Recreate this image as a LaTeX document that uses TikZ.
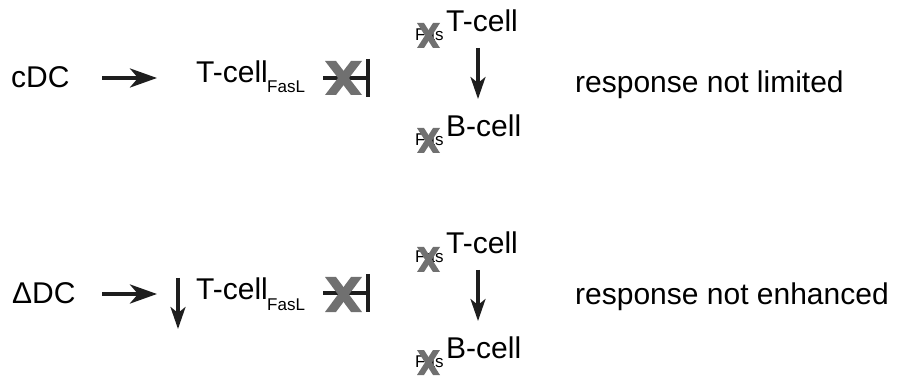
\documentclass[tikz,border=0pt]{standalone}
\usepackage{fontspec}
\setmainfont{Liberation Sans}
\usetikzlibrary{arrows.meta}
\definecolor{xgray}{RGB}{112,112,112}
\definecolor{ink}{RGB}{30,30,30}
\newcommand{\xmarkshape}[5]{%
  \fill[xgray] (#1,#2) -- ++(#5,0) -- (#3,#4) -- ++(-#5,0) -- cycle;
  \fill[xgray] (#3,#2) -- ++(-#5,0) -- (#1,#4) -- ++(#5,0) -- cycle;}
\tikzset{
  txt/.style={inner sep=0pt, anchor=base west, font=\fontsize{30}{34}\selectfont, text=black},
  small/.style={inner sep=0pt, anchor=base west, font=\fontsize{17}{20}\selectfont, text=black},
  harrow/.style={draw=ink, line width=4pt, -{Stealth[length=27pt,width=19pt,inset=8pt]}},
  varrow/.style={draw=ink, line width=3.2pt, -{Stealth[length=22pt,width=15pt,inset=6pt]}},
  inhib/.style={draw=ink, line width=4pt, -{Bar[width=38pt]}}
}
\begin{document}
\begin{tikzpicture}[x=1pt,y=-1pt]
\useasboundingbox (0,0) rectangle (899,387);
% ---------- row 1 ----------
\node[txt] (cdc) at (11,88) {cDC};
\coordinate (a1s) at (102,78);
\coordinate (a1e) at (157,78);
\draw[harrow] (a1s) -- (a1e);
\node[txt] (tc1) at (196,83) {T-cell};
\node[small] (fasl1) at (267,93) {FasL};
\coordinate (i1s) at (323,78);
\coordinate (i1e) at (370,78);
\draw[inhib] (i1s) -- (i1e);
\xmarkshape{325}{61}{362}{95}{11}
% right group row 1
\node[small] (fas1a) at (415,41) {Fas};
\xmarkshape{417}{23}{440}{48}{7}
\node[txt] (rt1) at (446,32) {T-cell};
\coordinate (v1s) at (478,48);
\coordinate (v1e) at (478,99);
\draw[varrow] (v1s) -- (v1e);
\node[small] (fas1b) at (415,146) {Fas};
\xmarkshape{417}{128}{440}{153}{7}
\node[txt] (rb1) at (446,137) {B-cell};
\node[txt] (resp1) at (575,93) {response not limited};
% ---------- row 2 ----------
\node[txt] (ddc) at (12,303) {ΔDC};
\coordinate (a2s) at (102,294);
\coordinate (a2e) at (157,294);
\draw[harrow] (a2s) -- (a2e);
\coordinate (d2s) at (178,278);
\coordinate (d2e) at (178,329);
\draw[varrow] (d2s) -- (d2e);
\node[txt] (tc2) at (196,299) {T-cell};
\node[small] (fasl2) at (267,310) {FasL};
\coordinate (i2s) at (323,293);
\coordinate (i2e) at (370,293);
\draw[inhib] (i2s) -- (i2e);
\xmarkshape{325}{277}{362}{312}{11}
% right group row 2
\node[small] (fas2a) at (415,263) {Fas};
\xmarkshape{417}{247}{440}{272}{7}
\node[txt] (rt2) at (446,254) {T-cell};
\coordinate (v2s) at (478,270);
\coordinate (v2e) at (478,321);
\draw[varrow] (v2s) -- (v2e);
\node[small] (fas2b) at (415,367) {Fas};
\xmarkshape{417}{350}{440}{375}{7}
\node[txt] (rb2) at (446,358) {B-cell};
\node[txt] (resp2) at (575,305) {response not enhanced};
\end{tikzpicture}
\end{document}
